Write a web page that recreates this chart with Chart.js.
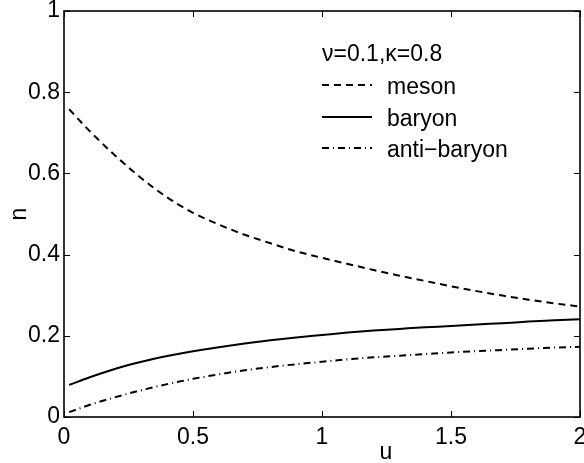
<!DOCTYPE html>
<html><head><meta charset="utf-8">
<script src="https://cdn.jsdelivr.net/npm/chart.js@4.4.0/dist/chart.umd.min.js"></script>
<style>html,body{margin:0;padding:0;background:#fff;overflow:hidden;}</style>
</head><body>
<canvas id="c" width="584" height="463" style="display:block;width:584px;height:463px"></canvas>
<script>
const uValues = [0.02,0.1,0.2,0.3,0.4,0.5,0.6,0.7,0.8,0.9,1.0,1.1,1.2,1.3,1.4,1.5,1.6,1.7,1.8,1.9,2.0];
const mesonValues = [0.758,0.704,0.643,0.588,0.541,0.503,0.474,0.449,0.428,0.408,0.392,0.377,0.362,0.348,0.335,0.322,0.310,0.299,0.289,0.280,0.272];
const baryonValues = [0.079,0.098,0.119,0.136,0.150,0.162,0.172,0.181,0.189,0.196,0.202,0.208,0.213,0.217,0.221,0.224,0.228,0.231,0.235,0.238,0.241];
const antiBaryonValues = [0.012,0.030,0.049,0.066,0.081,0.094,0.105,0.115,0.123,0.130,0.136,0.142,0.147,0.151,0.155,0.159,0.162,0.165,0.168,0.171,0.173];
const xTickValues = [0,0.5,1,1.5,2];
const xTickLabels = ['0','0.5','1','1.5','2'];
const yTickValues = [0,0.2,0.4,0.6,0.8,1];
const yTickLabels = ['0','0.2','0.4','0.6','0.8','1'];
const seriesNames = ['meson','baryon','anti\u2212baryon'];
const legendTitle = '\u03bd=0.1,\u03ba=0.8';
const xAxisLabel = 'u';
const yAxisLabel = 'n';

const FONT = 'Liberation Sans, Arial, Helvetica, sans-serif';
const FS = 23;

function pts(vals){ return uValues.map((u,i)=>({x:u, y:vals[i]})); }

const frame = {
  id:'frame',
  afterDraw(chart){
    const ctx = chart.ctx, a = chart.chartArea;
    const xs = chart.scales.x, ys = chart.scales.y;
    ctx.save();
    ctx.strokeStyle = '#000';
    ctx.lineWidth = 1;
    const tl = 6;
    xTickValues.forEach(v=>{
      const px = Math.round(xs.getPixelForValue(v))+0.5;
      ctx.beginPath();
      ctx.moveTo(px,a.bottom); ctx.lineTo(px,a.bottom-tl);
      ctx.moveTo(px,a.top); ctx.lineTo(px,a.top+tl);
      ctx.stroke();
    });
    yTickValues.forEach(v=>{
      const py = Math.round(ys.getPixelForValue(v))+0.5;
      ctx.beginPath();
      ctx.moveTo(a.left,py); ctx.lineTo(a.left+tl,py);
      ctx.moveTo(a.right,py); ctx.lineTo(a.right-tl,py);
      ctx.stroke();
    });
    ctx.lineWidth = 1.6;
    ctx.strokeRect(a.left, a.top, a.right-a.left, a.bottom-a.top);
    // x axis label
    ctx.fillStyle = '#000';
    ctx.font = FS+'px '+FONT;
    ctx.textAlign = 'center';
    ctx.textBaseline = 'alphabetic';
    ctx.fillText(xAxisLabel, 386, 459);
    // legend
    const lx0 = 322, lx1 = 372, tx = 387;
    ctx.textAlign = 'left';
    ctx.fillText(legendTitle, lx0, 61);
    const baselines = [94, 126, 157];
    chart.data.datasets.forEach((ds,i)=>{
      const by = baselines[i];
      ctx.save();
      ctx.lineWidth = ds.borderWidth;
      ctx.setLineDash(ds.borderDash||[]);
      ctx.beginPath();
      ctx.moveTo(lx0, by-9); ctx.lineTo(lx1, by-9);
      ctx.stroke();
      ctx.restore();
      ctx.fillText(ds.label, tx, by);
    });
    ctx.restore();
  }
};

new Chart(document.getElementById('c'), {
  type:'scatter',
  data:{ datasets:[
    {label:seriesNames[0], data:pts(mesonValues), showLine:true, borderColor:'#000', borderWidth:2, borderDash:[7,5], pointRadius:0, cubicInterpolationMode:'monotone'},
    {label:seriesNames[1], data:pts(baryonValues), showLine:true, borderColor:'#000', borderWidth:2, borderDash:[], pointRadius:0, cubicInterpolationMode:'monotone'},
    {label:seriesNames[2], data:pts(antiBaryonValues), showLine:true, borderColor:'#000', borderWidth:2, borderDash:[7,4,1,4], pointRadius:0, cubicInterpolationMode:'monotone'}
  ]},
  options:{
    responsive:false, animation:false, devicePixelRatio:1,
    layout:{padding:{left:0,right:4,top:11,bottom:0}},
    plugins:{legend:{display:false}, tooltip:{enabled:false}},
    scales:{
      x:{type:'linear', min:0, max:2,
        afterBuildTicks(s){ s.ticks = xTickValues.map(v=>({value:v})); },
        afterFit(s){ s.height = 46; s.paddingLeft = 0; s.paddingRight = 0; },
        grid:{display:false, drawTicks:false}, border:{display:false},
        ticks:{autoSkip:false, maxRotation:0, padding:7, color:'#000', font:{family:FONT,size:FS},
          callback:(v,i)=>xTickLabels[i]}
      },
      y:{type:'linear', min:0, max:1,
        afterBuildTicks(s){ s.ticks = yTickValues.map(v=>({value:v})); },
        afterFit(s){ s.width = 64; s.paddingTop = 0; s.paddingBottom = 0; },
        grid:{display:false, drawTicks:false}, border:{display:false},
        ticks:{autoSkip:false, padding:4, color:'#000', font:{family:FONT,size:FS},
          callback:(v,i)=>yTickLabels[i]},
        title:{display:true, text:yAxisLabel, color:'#000', font:{family:FONT,size:FS}, padding:{top:6,bottom:0}}
      }
    }
  },
  plugins:[frame]
});
</script>
</body></html>
